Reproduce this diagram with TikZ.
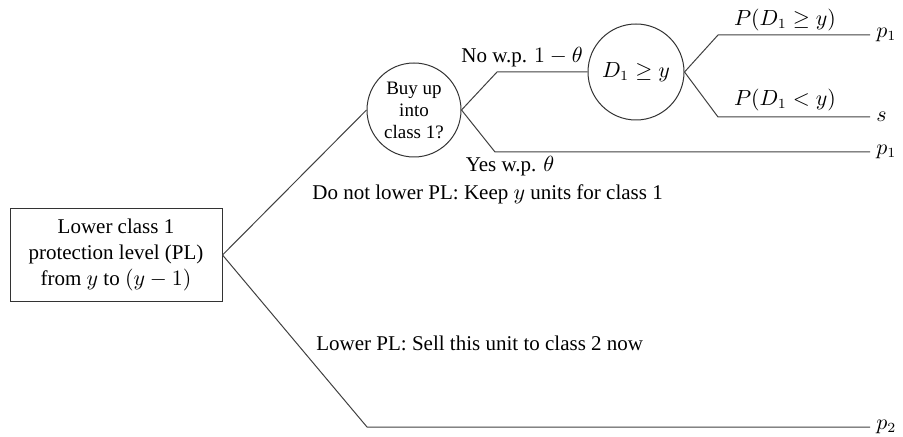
\documentclass[tikz,border=0pt]{standalone}
\usepackage{amsmath,amssymb}
\usepackage{fontspec}
\setmainfont{Liberation Serif}
\usepackage{tikz}
\usetikzlibrary{positioning}

\begin{document}
\begin{tikzpicture}[
  x=0.5pt, y=-0.5pt,
  font=\rmfamily\fontsize{10.5}{13}\selectfont,
  box/.style={draw=black!80, line width=0.5pt, align=center,
              minimum width=106pt, minimum height=46.5pt, inner sep=2pt},
  decision/.style={draw=black!80, line width=0.5pt, circle, align=center,
                   minimum size=#1, inner sep=0pt},
  branch/.style={draw=black!75, line width=0.5pt},
  payoff/.style={anchor=west, inner sep=0pt}
]
\useasboundingbox (0,0) rectangle (903,437);

% decision nodes
\node[box] (lower) at (116,255) {Lower class 1\\protection level (PL)\\from $y$ to $(y-1)$};
\node[decision=47pt, font=\rmfamily\fontsize{9.5}{11}\selectfont] (buyup) at (414,110) {Buy up\\into\\class 1?};
\node[decision=48pt] (demand) at (636,72) {$D_1\geq y$};

% bends and leaf ends
\coordinate (nobend) at (497,72);
\coordinate (yesbend) at (495,152);
\coordinate (yesend) at (870,152);
\coordinate (hibend) at (718,35);
\coordinate (hiend) at (870,35);
\coordinate (lobend) at (718,117);
\coordinate (loend) at (870,117);
\coordinate (lowbend) at (367,427);
\coordinate (lowend) at (870,427);

\draw[branch] (lower.east) -- (buyup.west);
\draw[branch] (lower.east) -- (lowbend) -- (lowend);
\draw[branch] (buyup.east) -- (nobend) -- (demand.west);
\draw[branch] (buyup.east) -- (yesbend) -- (yesend);
\draw[branch] (demand.east) -- (hibend) -- (hiend);
\draw[branch] (demand.east) -- (lobend) -- (loend);

% payoffs
\node[payoff] (payhi) at ([xshift=3pt]hiend) {$p_1$};
\node[payoff] (paylo) at ([xshift=3pt]loend) {$s$};
\node[payoff] (payyes) at ([xshift=3pt]yesend) {$p_1$};
\node[payoff] (paylow) at ([xshift=3pt]lowend) {$p_2$};

% branch labels
\node (nolab) at (522,57) {No w.p. $1-\theta$};
\node (yeslab) at (510,166) {Yes w.p. $\theta$};
\node (hilab) at (785,20) {$P(D_1\geq y)$};
\node (lolab) at (785,100) {$P(D_1<y)$};
\node[anchor=west, inner sep=0pt] (keeplab) at (312,194) {Do not lower PL: Keep $y$ units for class 1};
\node[anchor=west, inner sep=0pt] (selllab) at (316,343) {Lower PL: Sell this unit to class 2 now};
\end{tikzpicture}
\end{document}
